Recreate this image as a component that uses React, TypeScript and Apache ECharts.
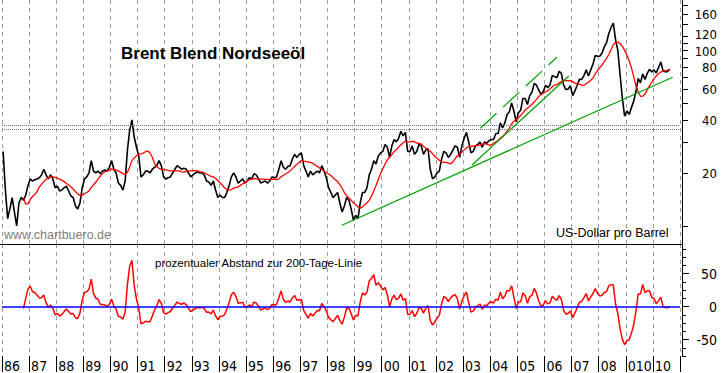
import React, { useEffect, useRef } from "react";
import * as echarts from "echarts";

// ---- data (monthly) ----
const START_YEAR = 1986;
const brent1986to1993 = [
  26.5, 16.0, 11.0, 12.5, 14.5, 12.0, 10.0, 13.5, 14.5, 14.0, 15.0, 17.0,
  18.5, 18.0, 18.3, 18.5, 18.8, 19.5, 21.0, 19.5, 18.5, 19.5, 18.5, 16.5,
  16.8, 15.8, 16.0, 16.5, 16.8, 15.8, 14.8, 14.5, 13.0, 12.5, 13.5, 16.5,
  18.5, 19.0, 20.0, 23.5, 20.5, 20.0, 20.5, 19.8, 20.5, 20.8, 20.5, 21.5,
  23.5, 21.0, 20.0, 17.5, 17.0, 16.0, 18.0, 27.0, 35.0, 40.0, 32.0, 28.0,
  25.0, 19.0, 19.5, 20.5, 20.5, 20.0, 21.0, 21.5, 22.0, 23.5, 22.0, 19.0,
  18.5, 18.8, 19.0, 20.0, 21.0, 22.0, 21.5, 21.0, 21.3, 21.0, 20.0, 19.0,
  19.5, 20.0, 20.3, 20.0, 20.0, 19.5, 18.0, 17.8, 17.0, 18.0, 16.0, 14.5,
];
const brent1994to2001 = [
  15.0, 14.5, 14.5, 15.5, 17.0, 19.0, 20.0, 19.0, 17.5, 18.0, 18.5, 17.5,
  18.0, 18.8, 18.5, 19.8, 19.5, 18.5, 17.5, 17.8, 18.0, 17.5, 18.0, 19.0,
  18.8, 19.0, 21.0, 23.5, 21.5, 21.0, 21.8, 22.0, 24.0, 25.5, 24.5, 25.5,
  26.0, 22.0, 20.5, 19.0, 20.5, 19.5, 20.0, 20.5, 20.0, 22.0, 20.5, 18.8,
  16.5, 15.5, 14.5, 15.0, 15.5, 13.5, 12.0, 13.0, 14.5, 14.0, 12.5, 10.8,
  11.5, 11.0, 13.5, 15.5, 15.5, 16.5, 19.5, 21.0, 23.5, 22.5, 25.0, 26.0,
  26.5, 29.0, 28.0, 24.5, 28.5, 31.0, 30.0, 31.5, 34.5, 32.5, 34.0, 26.5,
  26.5, 28.5, 25.5, 26.5, 29.0, 28.5, 25.5, 27.0, 27.5, 21.0, 18.5, 19.0,
];
const brent2002to2010 = [
  20.0, 20.5, 24.0, 26.5, 26.0, 24.5, 25.5, 27.0, 28.5, 28.0, 24.5, 28.5,
  31.5, 34.0, 30.0, 26.0, 26.5, 28.5, 29.0, 30.0, 28.0, 30.0, 29.5, 30.5,
  31.0, 31.0, 33.5, 33.5, 38.5, 36.0, 38.5, 43.0, 44.5, 50.0, 45.0, 39.0,
  44.0, 45.5, 53.0, 53.0, 49.0, 55.0, 57.5, 64.5, 63.0, 59.0, 56.0, 58.0,
  63.0, 61.0, 63.5, 71.5, 70.5, 69.5, 75.5, 73.5, 63.0, 59.5, 60.0, 62.5,
  55.0, 58.5, 63.0, 68.0, 68.0, 71.5, 77.0, 71.0, 77.0, 83.0, 93.0, 92.0,
  92.0, 96.0, 104.0, 110.0, 124.0, 134.0, 142.0, 114.0, 99.0, 72.0, 53.0, 42.0,
  45.0, 43.0, 47.0, 51.0, 58.0, 69.0, 65.0, 73.0, 68.0, 73.5, 77.5, 75.0,
  77.0, 74.0, 79.5, 85.5, 76.0, 75.0, 75.5, 77.5,
];
const MA_WINDOW_MONTHS = 10; // ~200 trading days

// trend lines [start, end]
const longSupportT = [1998.53, 2010.73];
const longSupportV = [10.1, 69.9];
const steepSupportT = [2003.33, 2006.9];
const steepSupportV = [22.2, 71.1];
const channelT = [2003.64, 2006.46];
const channelV = [35.9, 90.8];

const guideLevels = [35.4, 37.1];
const upperTickValues = [180, 160, 140, 120, 110, 100, 90, 80, 70, 60, 50, 40, 30, 20, 10];
const upperLabelValues = [160, 120, 100, 80, 60, 40, 20];
const lowerLabelValues = [-50, 0, 50];
const lowerMinorTicks = [-75, -62.5, -50, -37.5, -25, -12.5, 0, 12.5, 25, 37.5, 50, 62.5, 75, 87.5];

const NARROW = '"Liberation Sans Narrow", "Arial Narrow", "DejaVu Sans Condensed", sans-serif';
const SANS = '"Liberation Sans", Arial, Helvetica, sans-serif';

export default function App() {
  const ref = useRef<HTMLDivElement>(null);
  useEffect(() => {
    if (!ref.current) return;
    const chart = echarts.init(ref.current, undefined, { renderer: "svg" });
    const prices = [...brent1986to1993, ...brent1994to2001, ...brent2002to2010];
    const tOf = (i: number) => START_YEAR + (i + 0.5) / 12;
    const pricePts = prices.map((v, i) => [tOf(i), v]);
    const maPts: number[][] = [];
    const devPts: number[][] = [];
    for (let i = MA_WINDOW_MONTHS - 1; i < prices.length; i++) {
      let s = 0;
      for (let k = i - MA_WINDOW_MONTHS + 1; k <= i; k++) s += prices[k];
      const m = s / MA_WINDOW_MONTHS;
      maPts.push([tOf(i), m]);
      devPts.push([tOf(i), (prices[i] / m - 1) * 100]);
    }
    const seg = (t: number[], v: number[]) => t.map((x, i) => [x, v[i]]);
    const gridSplit = { show: true, lineStyle: { color: "#9a9a9a", type: [4, 4] as any, width: 1 } };

    chart.setOption({
      animation: false,
      backgroundColor: "#ffffff",
      grid: [
        { left: 2, top: 0, width: 678, height: 244 },
        { left: 2, top: 244, width: 678, height: 113 },
      ],
      xAxis: [
        {
          gridIndex: 0, type: "value", min: 1986, max: 2011, interval: 1,
          axisLine: { show: false, onZero: false }, axisTick: { show: false }, axisLabel: { show: false },
          splitLine: gridSplit,
        },
        {
          gridIndex: 1, type: "value", min: 1986, max: 2011, interval: 1, position: "bottom",
          axisLine: { show: false, onZero: false },
          axisTick: { show: true, length: 16, inside: false, lineStyle: { color: "#000", width: 1 } },
          axisLabel: {
            show: true, align: "left", margin: 3, padding: [0, 0, 0, 2],
            fontSize: 14, fontFamily: NARROW, color: "#000",
            formatter: (v: number) => {
              const y = Math.round(v);
              if (y >= 2011) return "";
              if (y === 2009) return "010";
              return String(y % 100).padStart(2, "0");
            },
          },
          splitLine: gridSplit,
        },
      ],
      yAxis: [
        {
          gridIndex: 0, type: "log", logBase: 10, min: 7.9, max: 192, position: "right", offset: 2,
          axisLine: { show: true, lineStyle: { color: "#000", width: 1 } },
          axisTick: { show: false }, axisLabel: { show: false }, splitLine: { show: false },
        },
        {
          gridIndex: 1, type: "value", min: -75, max: 95, position: "right", offset: 2,
          axisLine: { show: true, lineStyle: { color: "#000", width: 1 } },
          axisTick: { show: true, length: 7, customValues: lowerLabelValues, lineStyle: { color: "#000" } },
          axisLabel: {
            show: true, customValues: lowerLabelValues, align: "right", margin: 35,
            fontSize: 14, fontFamily: NARROW, color: "#000",
          },
          splitLine: { show: false },
        },
        {
          gridIndex: 1, type: "value", min: -75, max: 95, position: "right", offset: 2,
          axisLine: { show: false },
          axisTick: { show: true, length: 4, customValues: lowerMinorTicks, lineStyle: { color: "#000" } },
          axisLabel: { show: false }, splitLine: { show: false },
        },
      ],
      series: [
        {
          type: "line", xAxisIndex: 0, yAxisIndex: 0, data: pricePts, symbol: "none",
          lineStyle: { color: "#000", width: 1.6 }, z: 3,
          markLine: {
            silent: true, symbol: "none", label: { show: false },
            lineStyle: { color: "#707070", type: [1, 1] as any, width: 1 },
            data: guideLevels.map((v) => ({ yAxis: v })),
          },
        },
        {
          type: "line", xAxisIndex: 0, yAxisIndex: 0, data: maPts, symbol: "none",
          lineStyle: { color: "#ff0000", width: 1.3 }, z: 4,
        },
        {
          type: "line", xAxisIndex: 0, yAxisIndex: 0, data: seg(longSupportT, longSupportV), symbol: "none",
          lineStyle: { color: "#00a000", width: 1.2 }, z: 5,
        },
        {
          type: "line", xAxisIndex: 0, yAxisIndex: 0, data: seg(steepSupportT, steepSupportV), symbol: "none",
          lineStyle: { color: "#00a000", width: 1.2 }, z: 5,
        },
        {
          type: "line", xAxisIndex: 0, yAxisIndex: 0, data: seg(channelT, channelV), symbol: "none",
          lineStyle: { color: "#00a000", width: 1.2, type: [22, 9] as any }, z: 5,
        },
        {
          type: "line", xAxisIndex: 1, yAxisIndex: 1, data: devPts, symbol: "none",
          lineStyle: { color: "#ff0000", width: 1.5 }, z: 3,
          markLine: {
            silent: true, symbol: "none", label: { show: false },
            lineStyle: { color: "#0000ff", type: "solid", width: 1.5 },
            data: [{ yAxis: 0 }],
          },
        },
      ],
    });

    const axisX = 682;
    const graphics: any[] = [];
    upperTickValues.forEach((v) => {
      const y = Math.round(chart.convertToPixel({ yAxisIndex: 0 }, v) as number) + 0.5;
      graphics.push({ type: "line", z: 100, shape: { x1: axisX, y1: y, x2: axisX + 6, y2: y }, style: { stroke: "#000", lineWidth: 1 } });
    });
    const nudge: Record<number, number> = { 120: -1.5, 100: 1.5 };
    upperLabelValues.forEach((v) => {
      const y = chart.convertToPixel({ yAxisIndex: 0 }, v) as number;
      graphics.push({
        type: "text", z: 100, x: 717, y: y + 0.5 + (nudge[v] || 0),
        style: { text: String(v), fontSize: 13, fontFamily: NARROW, fill: "#000", align: "right", verticalAlign: "middle" },
      });
    });
    graphics.push({ type: "line", z: 100, shape: { x1: 0, y1: 244.5, x2: 682, y2: 244.5 }, style: { stroke: "#000", lineWidth: 1 } });
    graphics.push({
      type: "text", z: 100, x: 121, y: 53,
      style: { text: "Brent Blend Nordseeöl", fontSize: 17, fontWeight: "bold", fontFamily: SANS, fill: "#000", align: "left", verticalAlign: "middle" },
    });
    graphics.push({
      type: "text", z: 100, x: 4, y: 235,
      style: { text: "www.chartbuero.de", fontSize: 12.5, fontFamily: SANS, fill: "#808080", align: "left", verticalAlign: "middle" },
    });
    graphics.push({
      type: "text", z: 100, x: 556, y: 233,
      style: { text: "US-Dollar pro Barrel", fontSize: 12.5, fontFamily: SANS, fill: "#000", align: "left", verticalAlign: "middle" },
    });
    graphics.push({
      type: "text", z: 100, x: 155, y: 262.5,
      style: { text: "prozentualer Abstand zur 200-Tage-Linie", fontSize: 11.5, fontFamily: SANS, fill: "#000", align: "left", verticalAlign: "middle" },
    });
    chart.setOption({ graphic: graphics });

    return () => chart.dispose();
  }, []);
  return (
    <div
      ref={ref}
      style={{ position: "fixed", left: 0, top: 0, width: 723, height: 373, background: "#fff" }}
    />
  );
}
